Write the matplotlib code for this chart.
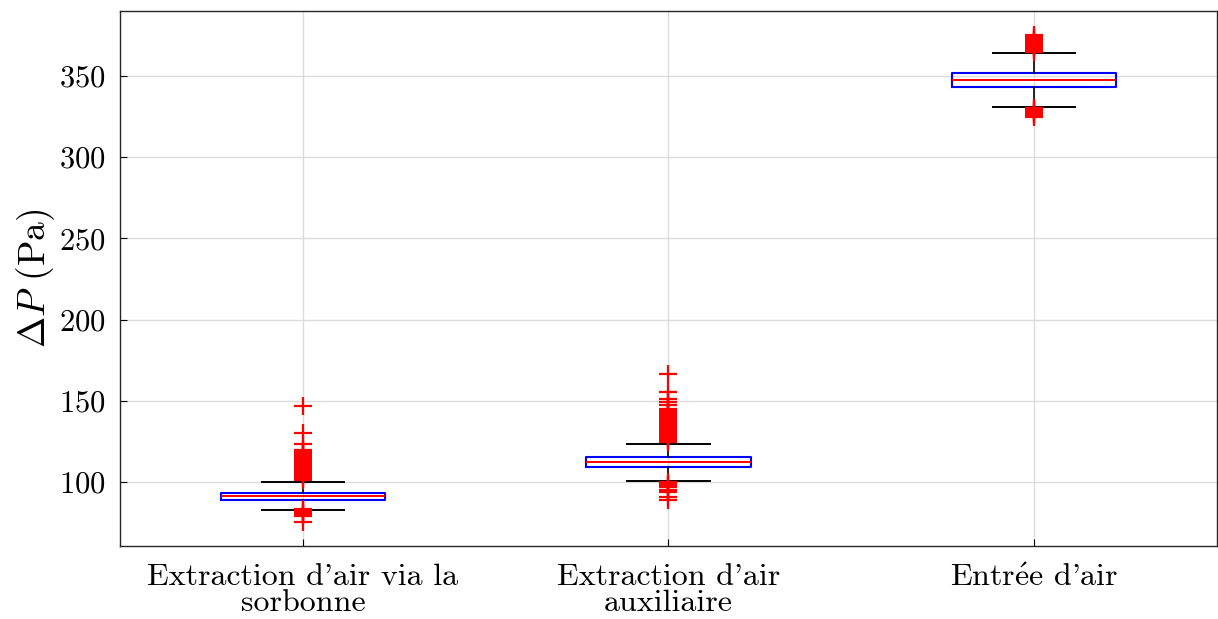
import matplotlib
matplotlib.use('Agg')
import matplotlib.pyplot as plt

plt.rcParams['font.family'] = ['cmr10', 'DejaVu Serif']
plt.rcParams['mathtext.fontset'] = 'cm'
plt.rcParams['axes.formatter.use_mathtext'] = True

# données (Pa)
labels = ["Extraction d'air via la\nsorbonne", "Extraction d'air\nauxiliaire",
          r"Entr$\mathrm{\acute{e}}$e d'air"]
q1 = [89.1, 109.2, 343.4]
med = [91.2, 112.1, 347.5]
q3 = [93.4, 115.2, 351.6]
whislo = [82.8, 100.8, 331.0]
whishi = [100.2, 123.6, 364.3]

fliers_sorbonne = [75.6, 79, 80, 81, 82, 83, 83.5,
                   101, 102, 103, 104, 105, 106, 107, 108, 109, 110,
                   111, 112, 113, 114, 115, 116, 117, 118, 119, 119.5,
                   123.2, 130.0, 146.8]
fliers_aux = [89, 91, 94, 95, 97, 98, 99, 100,
              124.5, 125, 126, 127, 128, 129, 130, 131, 132, 133, 134,
              135, 136, 137, 138, 139, 140, 141, 142, 143, 143.5,
              145.0, 147.4, 149.4, 150.9, 155.6, 166.5]
fliers_entree = [325, 326, 327, 328, 329, 330, 330.5,
                 365, 366, 367, 368, 369, 370, 371, 372, 373, 374, 375]
fliers = [fliers_sorbonne, fliers_aux, fliers_entree]

stats = []
for i in range(3):
    stats.append(dict(label=labels[i], q1=q1[i], med=med[i], q3=q3[i],
                      whislo=whislo[i], whishi=whishi[i], fliers=fliers[i]))

fig = plt.figure(figsize=(12.18, 6.19), dpi=100)
ax = fig.add_axes([0.0985, 0.118, 0.9007, 0.8643])

ax.bxp(stats, positions=[1, 2, 3], widths=0.45,
       boxprops=dict(color='blue', linewidth=1.5),
       medianprops=dict(color='red', linewidth=1.4),
       whiskerprops=dict(color='black', linewidth=1.2),
       capprops=dict(color='black', linewidth=1.4),
       capwidths=0.225,
       flierprops=dict(marker='+', markeredgecolor='red', markersize=13,
                       markeredgewidth=1.6, linestyle='none'),
       zorder=3)

ax.set_xlim(0.5, 3.5)
ax.set_ylim(60.6, 390)
ax.set_yticks([100, 150, 200, 250, 300, 350])
ax.set_xticks([1, 2, 3])
ax.set_xticklabels(labels, fontsize=23, linespacing=0.9)
ax.tick_params(axis='y', labelsize=22, direction='in', length=5, pad=10)
ax.tick_params(axis='x', direction='in', length=5, pad=13)
ax.grid(True, color='#dcdcdc', linewidth=1.0)
ax.set_axisbelow(True)
ax.set_ylabel(r'$\Delta P$ (Pa)', fontsize=27, labelpad=2)
for s in ax.spines.values():
    s.set_color('#262626')
    s.set_linewidth(1.0)

fig.savefig('out.png', dpi=100)
